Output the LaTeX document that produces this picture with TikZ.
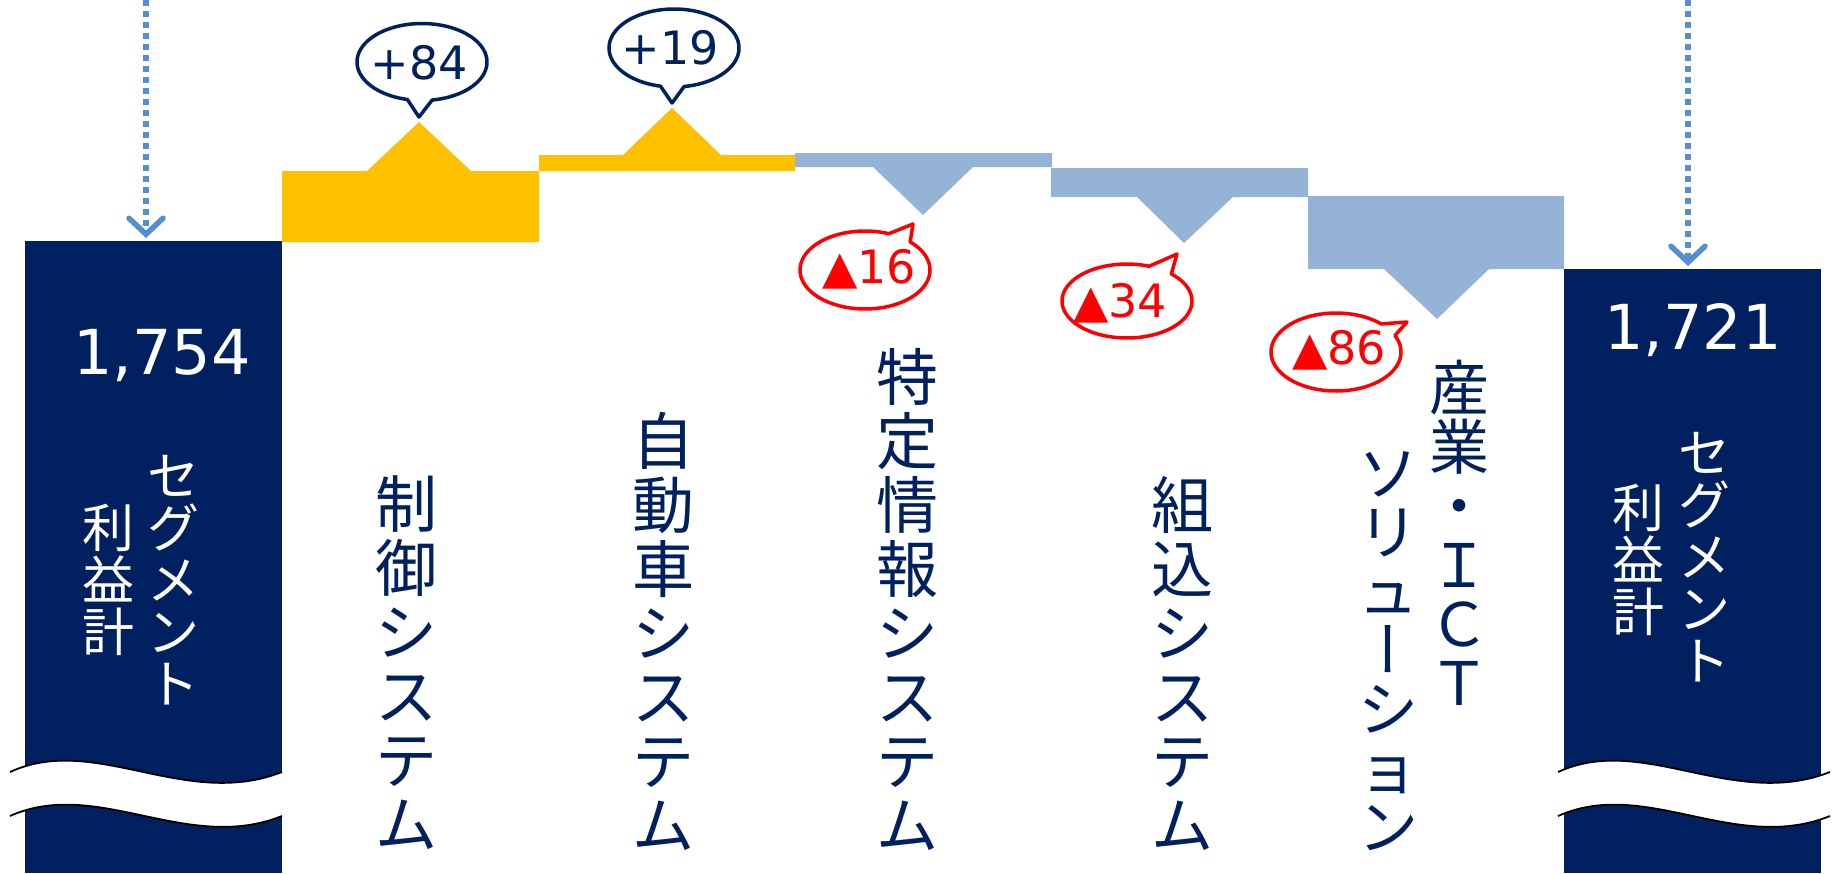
\documentclass[tikz,border=0pt]{standalone}
\usepackage{fontspec}
\newfontfamily\jp{Noto Sans CJK JP}
\newfontfamily\jpv{Noto Sans CJK JP}[RawFeature={+vert}]
\newfontfamily\num{DejaVu Sans}
\usetikzlibrary{arrows.meta}
\definecolor{navy}{HTML}{002060}
\definecolor{gold}{HTML}{FFC000}
\definecolor{lblue}{HTML}{95B3D7}
\definecolor{dotblue}{HTML}{558ED5}
\definecolor{bred}{HTML}{FF0000}
\newcommand{\bubble}[9]{%
  \draw[bubbleline, draw=#9] plot[domain=#5:#6, samples=90, variable=\t]
    ({#1+#3*cos(\t)},{#2+#4*sin(\t)}) -- (#7,#8) -- cycle;}
\begin{document}
\begin{tikzpicture}[x=1pt,y=-1pt,
  vlab/.style={font=\jp\fontsize{62}{64}\selectfont, text=navy, align=center, inner sep=0pt},
  vlabs/.style={font=\jp\fontsize{60}{59}\selectfont, text=navy, align=center, inner sep=0pt},
  wlab/.style={font=\jp\fontsize{52}{52}\selectfont, text=white, align=center, inner sep=0pt},
  bignum/.style={font=\num\fontsize{62}{62}\selectfont, text=white, inner sep=0pt, anchor=base},
  cnum/.style={font=\num\fontsize{46}{46}\selectfont, inner sep=0pt},
  bubbleline/.style={line width=3.5pt, fill=white, line join=round},
  totalbar/.style={fill=navy, inner sep=0pt, minimum width=257pt, anchor=north west},
  dotarrow/.style={dotblue, line width=5.5pt, dash pattern=on 5.5pt off 5.5pt, shorten >=3pt,
     -{Straight Barb[length=16pt,width=34pt,line width=5.5pt,line cap=round]}},
  wavy/.style={line width=1.8pt, black},
  brk/.pic={
    \fill[white] (10,772) .. controls (95,733) and (185,810) .. (282,772)
       -- (282,816) .. controls (187,854) and (97,777) .. (10,816) -- cycle;
    \draw[wavy] (10,772) .. controls (95,733) and (185,810) .. (282,772);
    \draw[wavy] (10,816) .. controls (97,777) and (187,854) .. (282,816);
  }]
\useasboundingbox (0,0) rectangle (1835,873);

% total bars
\node[totalbar, minimum height=632pt] (lbar) at (25,241) {};
\node[totalbar, minimum height=604pt] (rbar) at (1564,269) {};

% waterfall steps
\fill[gold] (282,242) -- (282,171) -- (367,171) -- (419,122) -- (471,171) -- (539,171) -- (539,242) -- cycle;
\fill[gold] (539,171) -- (539,155) -- (623,155) -- (672,108) -- (721,155) -- (795,155) -- (795,171) -- cycle;
\fill[lblue] (795,153) -- (1052,153) -- (1052,167) -- (973,167) -- (923,215) -- (873,167) -- (795,167) -- cycle;
\fill[lblue] (1051,168) -- (1308,168) -- (1308,197) -- (1233,197) -- (1184,243) -- (1137,197) -- (1051,197) -- cycle;
\fill[lblue] (1308,196) -- (1564,196) -- (1564,269) -- (1489,269) -- (1437,319) -- (1384,269) -- (1308,269) -- cycle;

% breaks
\pic at (0,0) {brk};
\pic at (1548,0) {brk};

% dotted arrows
\coordinate (la) at (146,0);
\coordinate (ra) at (1688,0);
\draw[dotarrow] (la) -- (la |- lbar.north);
\draw[dotarrow] (ra) -- (ra |- rbar.north);

% callouts
\bubble{422}{62}{65}{38.5}{103}{441}{419}{117}{navy}
\bubble{674}{48}{65}{39}{102}{441}{672}{103}{navy}
\bubble{865}{270}{65}{39}{314}{651.5}{913}{224}{bred}
\bubble{1127}{301}{65}{37}{313}{650}{1177}{254}{bred}
\bubble{1336}{352}{65}{39}{335}{674}{1407}{322}{bred}
\node[cnum, text=navy] (c84) at (419,63) {+84};
\node[cnum, text=navy] (c19) at (670,48) {+19};
\node[cnum, text=bred] (c16) at (869,269) {▲16};
\node[cnum, text=bred] (c34) at (1120,303) {▲34};
\node[cnum, text=bred] (c86) at (1339,350) {▲86};

% values
\node[bignum] (v1) at (162,374) {1,754};
\node[bignum] (v2) at (1693,349) {1,721};

% vertical labels
\node[wlab] (s1a) at (173,580) {セ\\グ\\メ\\ン\\ト};
\node[wlab] (s1b) at (108,580) {利\\益\\計};
\node[wlab] (s2a) at (1704,557) {セ\\グ\\メ\\ン\\ト};
\node[wlab] (s2b) at (1638,560) {利\\益\\計};
\node[vlab] (t1) at (406,663) {制\\御\\シ\\ス\\テ\\ム};
\node[vlab] (t2) at (663,631) {自\\動\\車\\シ\\ス\\テ\\ム};
\node[vlab] (t3) at (907,599) {特\\定\\情\\報\\シ\\ス\\テ\\ム};
\node[vlab] (t4) at (1182,663) {組\\込\\シ\\ス\\テ\\ム};
\node[vlabs] (t5a) at (1459,533) {産\\業\\・\\Ｉ\\Ｃ\\Ｔ};
\node[vlabs] (t5b) at (1388,651) {ソ\\リ\\ュ\\{\jpv ー}\\シ\\ョ\\ン};
\end{tikzpicture}
\end{document}
